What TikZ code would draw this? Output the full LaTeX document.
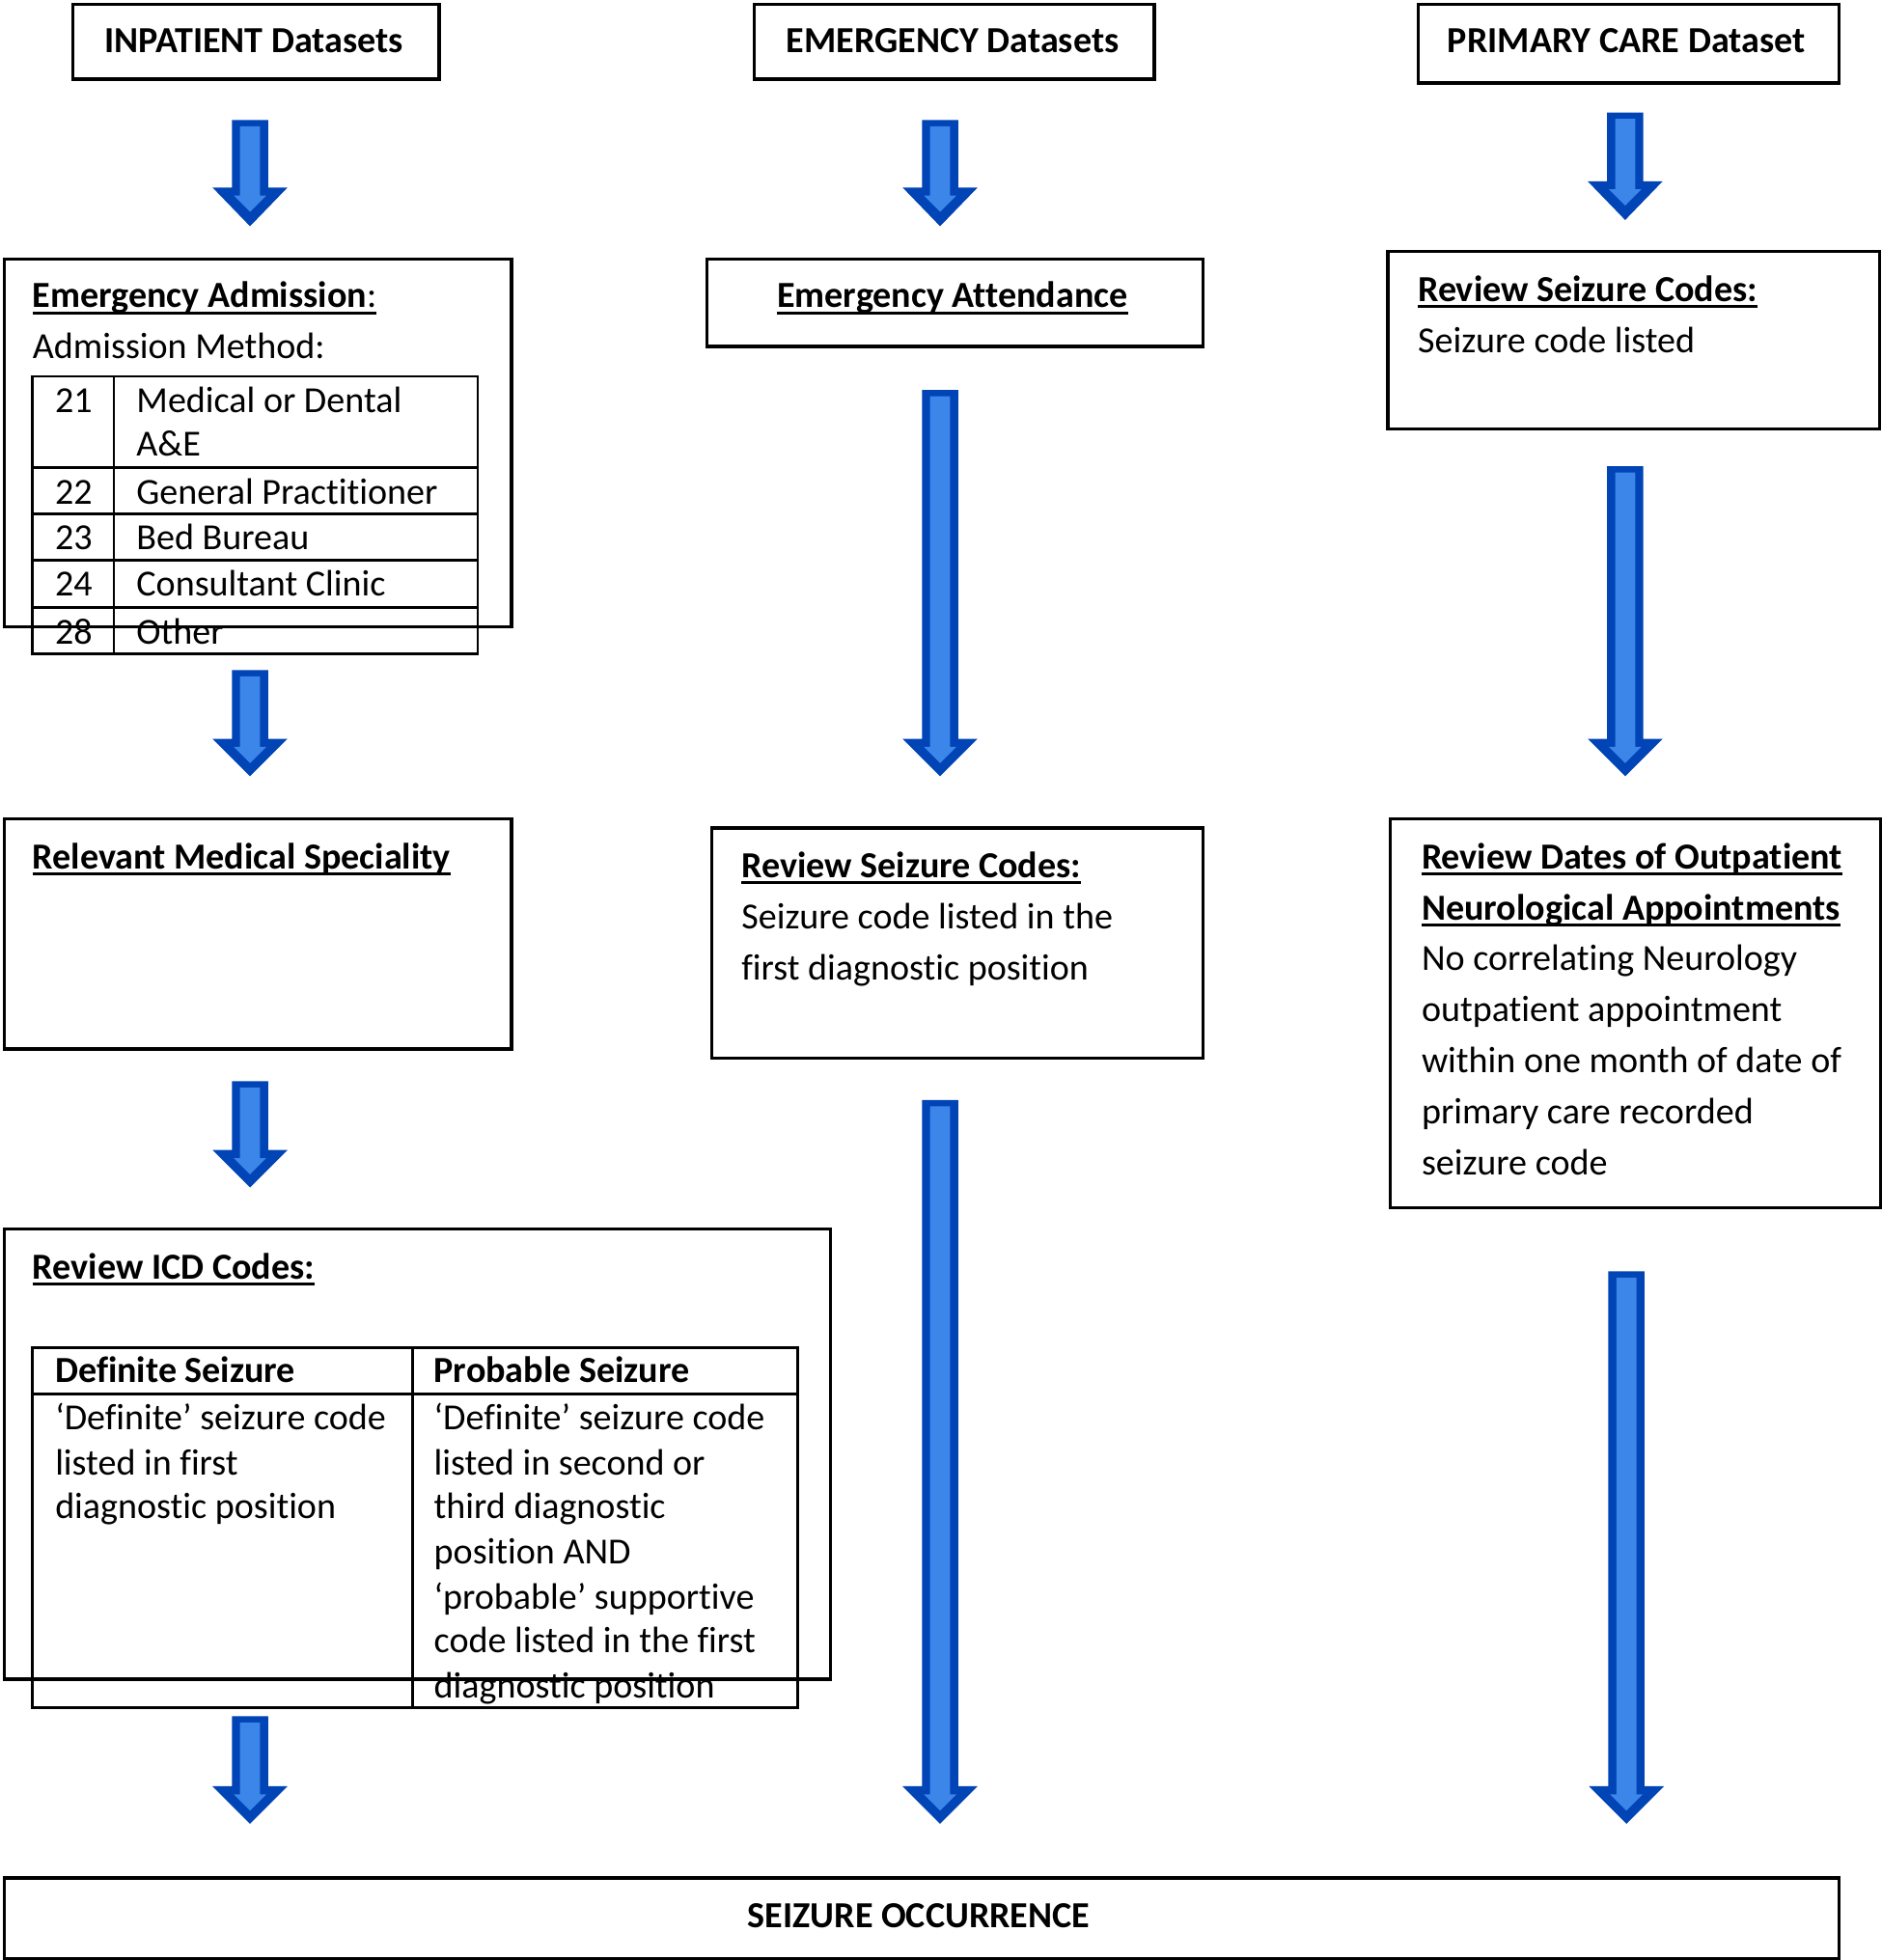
\documentclass[tikz,border=0pt]{standalone}
\usepackage{fontspec}
\setmainfont{Carlito}[Ligatures={NoCommon,NoRare,NoDiscretionary}]
\definecolor{arrdark}{RGB}{0,68,182}
\definecolor{arrfill}{RGB}{60,134,234}
\newsavebox\ulbox
\newcommand\myul[1]{\sbox\ulbox{#1}\rlap{\rule[-5.5pt]{\wd\ulbox}{2.3pt}}\usebox\ulbox}
\newcommand\bu[1]{\myul{\textbf{#1}}}
\tikzset{
  box/.style={draw=black, line width=2.6pt, fill=white, anchor=north west, inner sep=0pt},
  tline/.style={draw=black, line width=2pt},
  txt/.style={anchor=base west, inner sep=0pt, font=\fontsize{29.4}{34}\selectfont},
  ctxt/.style={anchor=base, inner sep=0pt, font=\fontsize{29.4}{34}\selectfont},
}
\newcommand\blkarrow[4]{% x, top, head base, tip
  \fill[arrdark] ({#1-14.5},#2) -- ({#1+14.5},#2) -- ({#1+14.5},#3) -- ({#1+30},#3)
    -- (#1,#4) -- ({#1-30},#3) -- ({#1-14.5},#3) -- cycle;
  \fill[arrfill] ({#1-8},{#2+5}) -- ({#1+8},{#2+5}) -- ({#1+8},{#3+6.5}) -- ({#1+13},{#3+6.5})
    -- (#1,{#3+19.5}) -- ({#1-13},{#3+6.5}) -- ({#1-8},{#3+6.5}) -- cycle;}
\begin{document}
\begin{tikzpicture}[x=1pt,y=-1pt]
\fill[white] (0,0) rectangle (1505,1568);
\useasboundingbox (0,0) rectangle (1505,1568);

% ---------- top boxes ----------
\node[box, minimum width=293pt, minimum height=60pt] (inp) at (57,2) {};
\node[ctxt] (inpT) at (203,42) {\textbf{INPATIENT Datasets}};
\node[box, minimum width=320pt, minimum height=60pt] (emg) at (602,2) {};
\node[ctxt] (emgT) at (762,42) {\textbf{EMERGENCY Datasets}};
\node[box, minimum width=337pt, minimum height=63pt] (pc) at (1133,2) {};
\node[ctxt] (pcT) at (1301,42) {\textbf{PRIMARY CARE Dataset}};

% ---------- column 1 ----------
\node[box, minimum width=406pt, minimum height=294pt] (ea) at (2,206) {};
\node[txt] (eaT) at (26,246) {\bu{Emergency Admission}\myul{:}};
\node[txt] (eaM) at (26,287) {Admission Method:};
\draw[tline] (26,301) rectangle (382,523);
\draw[tline] (91,301) -- (91,523);
\foreach \yy in {374,411,448,486} \draw[tline] (26,\yy) -- (382,\yy);
\node[ctxt] (n21) at (59,330) {21};
\node[txt] (r21a) at (109,330) {Medical or Dental};
\node[txt] (r21b) at (109,365) {A\&E};
\node[ctxt] (n22) at (59,403) {22};
\node[txt] (r22) at (109,403) {General Practitioner};
\node[ctxt] (n23) at (59,440) {23};
\node[txt] (r23) at (109,440) {Bed Bureau};
\node[ctxt] (n24) at (59,477) {24};
\node[txt] (r24) at (109,477) {Consultant Clinic};
\node[ctxt] (n28) at (59,515) {28};
\node[txt] (r28) at (109,515) {Other};

\node[box, minimum width=406pt, minimum height=184pt] (rms) at (2,654) {};
\node[txt] (rmsT) at (26,695) {\bu{Relevant Medical Speciality}};

\node[box, minimum width=661pt, minimum height=360pt] (icd) at (2,982) {};
\node[txt] (icdT) at (26,1023) {\bu{Review ICD Codes:}};
\draw[tline] (26,1078) rectangle (638,1366);
\draw[tline] (330,1078) -- (330,1366);
\draw[tline] (26,1115) -- (638,1115);
\node[txt] (dsH) at (44,1106) {\textbf{Definite Seizure}};
\node[txt] (psH) at (347,1106) {\textbf{Probable Seizure}};
\node[txt] (ds1) at (44,1144) {‘Definite’ seizure code};
\node[txt] (ds2) at (44,1180) {listed in first};
\node[txt] (ds3) at (44,1215) {diagnostic position};
\node[txt] (ps1) at (347,1144) {‘Definite’ seizure code};
\node[txt] (ps2) at (347,1180) {listed in second or};
\node[txt] (ps3) at (347,1215) {third diagnostic};
\node[txt] (ps4) at (347,1251) {position AND};
\node[txt] (ps5) at (347,1287) {‘probable’ supportive};
\node[txt] (ps6) at (347,1322) {code listed in the first};
\node[txt] (ps7) at (347,1358) {diagnostic position};

% ---------- column 2 ----------
\node[box, minimum width=397pt, minimum height=70pt] (att) at (564,206) {};
\node[ctxt] (attT) at (762,246) {\bu{Emergency Attendance}};
\node[box, minimum width=393pt, minimum height=184pt] (rsc2) at (568,661) {};
\node[txt] (rsc2T) at (593,702) {\bu{Review Seizure Codes:}};
\node[txt] (rsc2a) at (593,743) {Seizure code listed in the};
\node[txt] (rsc2b) at (593,784) {first diagnostic position};

% ---------- column 3 ----------
\node[box, minimum width=393pt, minimum height=142pt] (rsc3) at (1109,200) {};
\node[txt] (rsc3T) at (1134,241) {\bu{Review Seizure Codes:}};
\node[txt] (rsc3a) at (1134,282) {Seizure code listed};
\node[box, minimum width=392pt, minimum height=311pt] (rdo) at (1111,654) {};
\node[txt] (rdo1) at (1137,695) {\bu{Review Dates of Outpatient}};
\node[txt] (rdo2) at (1137,736) {\bu{Neurological Appointments}};
\node[txt] (rdo3) at (1137,776) {No correlating Neurology};
\node[txt] (rdo4) at (1137,817) {outpatient appointment};
\node[txt] (rdo5) at (1137,858) {within one month of date of};
\node[txt] (rdo6) at (1137,899) {primary care recorded};
\node[txt] (rdo7) at (1137,940) {seizure code};

% ---------- bottom ----------
\node[box, minimum width=1468pt, minimum height=65pt] (occ) at (2,1501) {};
\node[ctxt] (occT) at (735,1542) {\textbf{SEIZURE OCCURRENCE}};

% ---------- arrows ----------
\blkarrow{200}{96}{150}{181}
\blkarrow{200}{536}{591}{621}
\blkarrow{200}{865}{920}{950}
\blkarrow{200}{1373}{1429}{1459}
\blkarrow{752}{96}{150}{181}
\blkarrow{752}{312}{591}{621}
\blkarrow{752}{880}{1429}{1459}
\blkarrow{1300}{90}{145}{176}
\blkarrow{1300}{373}{591}{621}
\blkarrow{1301}{1017}{1429}{1459}
\end{tikzpicture}
\end{document}
